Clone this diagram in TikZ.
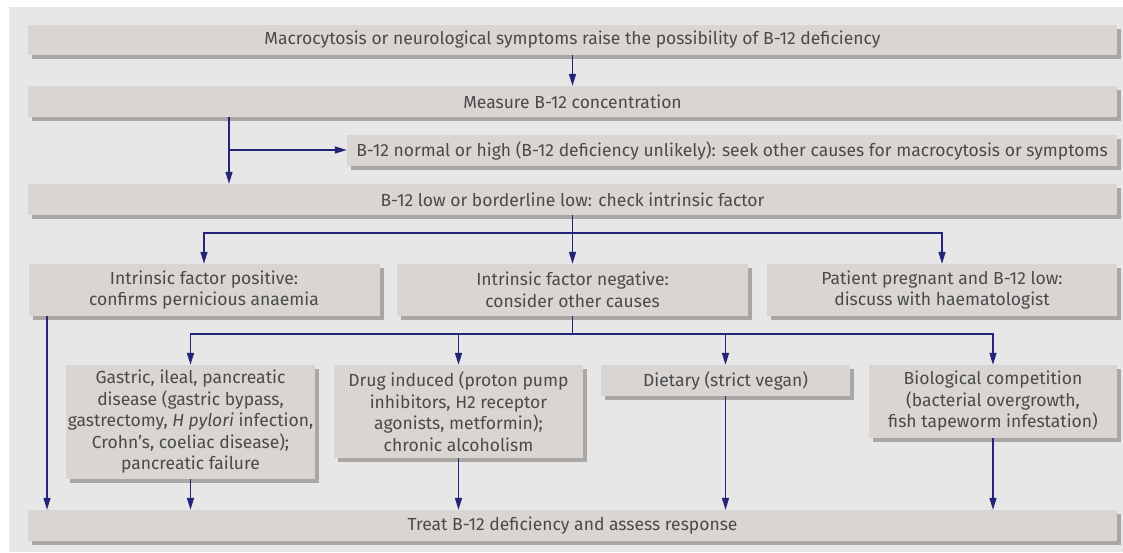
\documentclass[tikz,border=0pt]{standalone}
\usepackage{fontspec}
\setmainfont{Fira Sans}
\usetikzlibrary{arrows.meta,shadows}
\definecolor{ink}{HTML}{4A4A4A}
\definecolor{panel}{HTML}{E7E7E8}
\definecolor{boxf}{HTML}{D9D5D2}
\definecolor{shad}{HTML}{A9A6A4}
\definecolor{nv}{HTML}{24247A}
\tikzset{
  box/.style={fill=boxf,inner sep=2pt,align=center,text=ink,font=\fontsize{17.5}{21.5}\selectfont,
    general shadow={fill=shad,shadow xshift=4pt,shadow yshift=-4pt}},
  row/.style={box,minimum width=1089pt,minimum height=31pt},
  tri/.style={box,minimum width=351pt,minimum height=52pt},
  cause/.style={box,minimum width=249pt},
  link/.style={-{Triangle[length=12pt,width=7pt]},line width=1.5pt,nv},
  wire/.style={line width=1.5pt,nv}
}

\begin{document}
\begin{tikzpicture}[x=1pt,y=-1pt]
\useasboundingbox (0,0) rectangle (1123,553);
% ================= panel =================
\fill[panel] (9,7) rectangle (1123,552);
% ================= rows =================
\node[row,minimum height=30pt] (start) at (572.5,40) {Macrocytosis or neurological symptoms raise the possibility of B-12 deficiency};
\node[row] (measure) at (572.5,101.5) {Measure B-12 concentration};
\node[box,minimum width=770pt,minimum height=31pt] (normal) at (732,150.5) {B-12 normal or high (B-12 deficiency unlikely): seek other causes for macrocytosis or symptoms};
\node[row] (low) at (572.5,199.5) {B-12 low or borderline low: check intrinsic factor};
% ================= intrinsic factor =================
\node[tri] (ifpos) at (204,290) {Intrinsic factor positive:\\confirms pernicious anaemia};
\node[tri] (ifneg) at (572.5,290) {Intrinsic factor negative:\\consider other causes};
\node[tri,minimum width=350pt] (preg) at (942,290) {Patient pregnant and B-12 low:\\discuss with haematologist};
% ================= other causes =================
\node[cause,minimum height=114pt] (gastric) at (190.5,422) {Gastric, ileal, pancreatic\\disease (gastric bypass,\\gastrectomy, \textit{H pylori} infection,\\Crohn’s, coeliac disease);\\pancreatic failure};
\node[cause,minimum height=93pt] (drug) at (458.5,411.5) {Drug induced (proton pump\\inhibitors, H2 receptor\\agonists, metformin);\\chronic alcoholism};
\node[cause,minimum height=31pt] (diet) at (725.5,380.5) {Dietary (strict vegan)};
\node[cause,minimum width=248pt,minimum height=73pt] (bio) at (993,401.5) {Biological competition\\(bacterial overgrowth,\\fish tapeworm infestation)};
\node[row] (treat) at (572.5,525.5) {Treat B-12 deficiency and assess response};
% ================= connectors =================
\coordinate (split) at (229,150);
\coordinate (fork1) at (572.5,233);
\coordinate (fork2) at (572.5,334);
\draw[link] (start) -- (measure);
\draw[link] (measure.south -| split) -- (low.north -| split);
\draw[link] (split) -- (normal.west |- split);
\draw[wire] (low.south) -- (fork1);
\draw[link] (fork1) -| (ifpos.north);
\draw[link] (fork1) -- (ifneg.north);
\draw[link] (fork1) -| (preg.north);
\draw[wire] (ifneg.south) -- (fork2);
\foreach \n in {gastric,drug,diet,bio}
  {\draw[link] (fork2) -| (\n.north);
   \draw[link] (\n.south) -- (\n.south |- treat.north);}
\draw[link] (47,0 |- ifpos.south) -- (47,0 |- treat.north);
\end{tikzpicture}
\end{document}
